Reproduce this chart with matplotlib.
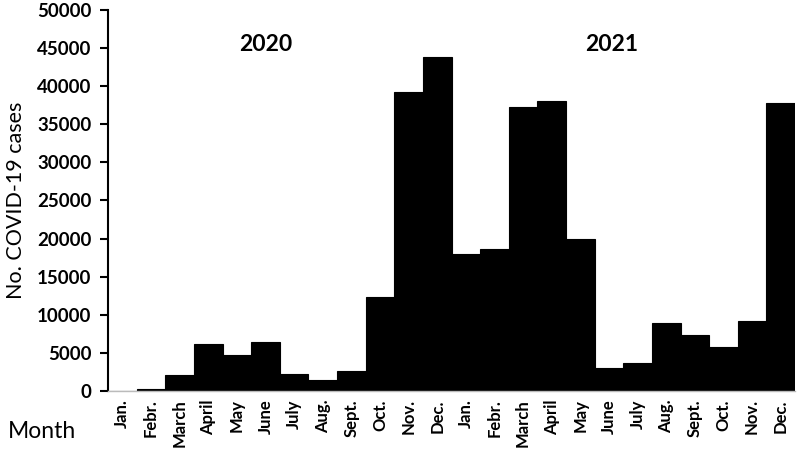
import matplotlib.pyplot as plt

months = ["Jan.", "Febr.", "March", "April", "May", "June", "July", "Aug.",
          "Sept.", "Oct.", "Nov.", "Dec."]
labels = months + months
cases_2020 = [20, 250, 2100, 6170, 4760, 6430, 2190, 1440, 2620, 12370, 39300, 43800]
cases_2021 = [17950, 18650, 37300, 38100, 20000, 2980, 3630, 8960, 7350, 5810, 9150, 37800]
cases = cases_2020 + cases_2021

plt.rcParams['font.family'] = ['Lato', 'DejaVu Sans']

fig = plt.figure(figsize=(7.97, 4.51), dpi=100)
ax = fig.add_axes([108 / 797, 1 - 391 / 451, 687 / 797, 381 / 451])

x = range(len(cases))
ax.bar(x, cases, width=1.0, color='black', edgecolor='black', linewidth=0.8)

ax.set_xlim(-0.5, len(cases) - 0.5)
ax.set_ylim(0, 50000)
ax.set_yticks(range(0, 50001, 5000))
ax.tick_params(axis='y', labelsize=13.5, length=6, width=1.5, pad=6)
for t in ax.get_yticklabels():
    t.set_fontweight('bold')
ax.set_xticks(list(x))
ax.set_xticklabels(labels, rotation=90, fontsize=12, fontweight='bold')
ax.tick_params(axis='x', length=0, pad=6)

for s in ['top', 'right']:
    ax.spines[s].set_visible(False)
ax.spines['left'].set_linewidth(1.5)
ax.spines['bottom'].set_color('#bbbbbb')
ax.spines['bottom'].set_linewidth(1.0)

ax.set_ylabel("No. COVID-19 cases", fontsize=15.5, labelpad=8)
ax.text(5.0, 45500, "2020", fontsize=16.5, fontweight='bold', ha='center', va='center')
ax.text(17.1, 45500, "2021", fontsize=16.5, fontweight='bold', ha='center', va='center')
fig.text(42 / 797, 1 - 432 / 451, "Month", fontsize=16.5, ha='center', va='center')

fig.savefig("out.png", dpi=100)
